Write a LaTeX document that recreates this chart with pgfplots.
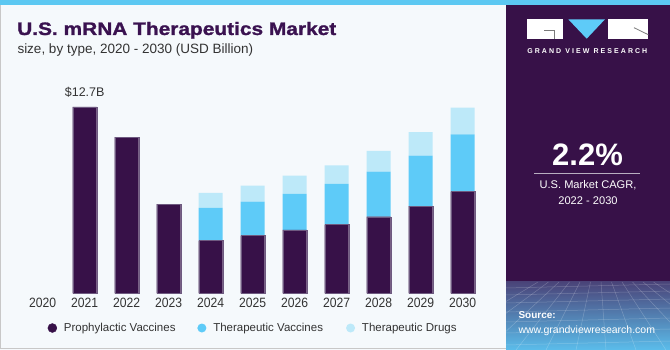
\documentclass[border=0pt]{standalone}
\usepackage{fontspec}
\setmainfont{Liberation Sans}
\newfontfamily\titlefont{Liberation Sans}[UprightFont={* Bold}, FakeStretch=1.16, FakeBold=1.3]
\newfontfamily\tickfont{Liberation Sans}[FakeStretch=0.9]
\usepackage{pgfplots}
\usepackage{pgfplotstable}
\pgfplotsset{compat=1.18}
\definecolor{pv}{HTML}{371148}
\definecolor{tv}{HTML}{5ECBF8}
\definecolor{td}{HTML}{BDE9F9}
\definecolor{bgl}{HTML}{F5F9FC}
\definecolor{strip}{HTML}{5CC8F2}
\definecolor{titlec}{HTML}{3A1250}
\definecolor{txt}{HTML}{333333}
\definecolor{bordc}{HTML}{C8C8C8}
\definecolor{gradtop}{HTML}{4A4479}
\definecolor{gradbot}{HTML}{5BBDEB}
\definecolor{cagrline}{HTML}{B8AEC0}
\definecolor{logoline}{HTML}{7A7A7A}
\definecolor{pvedge}{HTML}{6E5A80}

\pgfplotstableread{
year pv tv td
2021 12.70 0 0
2022 10.65 0 0
2023 6.07 0 0
2024 3.59 2.23 1.02
2025 3.93 2.32 1.09
2026 4.32 2.45 1.25
2027 4.68 2.77 1.27
2028 5.22 3.07 1.41
2029 5.95 3.43 1.60
2030 6.93 3.91 1.81
}\datatable

\begin{document}
\begin{tikzpicture}
\begin{scope}[x=1pt,y=1pt]
\useasboundingbox (0,0) rectangle (670,350);
% left panel
\fill[bgl] (0,0) rectangle (506,345);
\draw[bordc, line width=1pt] (0.5,345) -- (0.5,1.5) -- (506,1.5);
% right panel
\fill[pv] (506,0) rectangle (670,345);
\shade[top color=gradtop, bottom color=gradbot] (506,0) rectangle (670,68);
\begin{scope}
\clip (506,0) rectangle (670,68);
\foreach \yy in {62,55,47,38,28,17,5} {\draw[white, opacity=0.22, line width=0.5pt] (506,\yy) -- (670,\yy+4);}
\foreach \xx in {-80,-50,-20,10,40,70,100,130,160,190,220,250} {\draw[white, opacity=0.22, line width=0.5pt] (506+\xx*0.35+60,68) -- (506+\xx,0);}
\end{scope}
% top strip
\fill[strip] (0,345) rectangle (670,350);

% title
\node[anchor=base west, inner sep=0pt, text=titlec, font=\titlefont\fontsize{18}{20}\selectfont] at (17,315) {U.S. mRNA Therapeutics Market};
\node[anchor=base west, inner sep=0pt, text=txt, font=\fontsize{13.5}{15}\selectfont] at (17.3,296.7) {size, by type, 2020 - 2030 (USD Billion)};

% logo
\fill[white] (526.7,311.3) rectangle (563.3,330.7);
\draw[logoline, line width=0.8pt] (544,319.7) -- (554.3,319.7) -- (554.3,311.3);
\fill[tv] (568.3,330.7) -- (605,330.7) -- (586.7,311.3) -- cycle;
\fill[white] (607.7,311.3) rectangle (648.3,330.7);
\draw[logoline, line width=0.8pt] (634,322.3) -- (648.3,315.3);
\node[anchor=base, inner sep=0pt, white, font=\fontsize{7}{7}\bfseries\selectfont] at (587.3,296.7) {\makebox[120pt]{G\hfill R\hfill A\hfill N\hfill D\hfill\hfill V\hfill I\hfill E\hfill W\hfill\hfill R\hfill E\hfill S\hfill E\hfill A\hfill R\hfill C\hfill H}};

% CAGR
\node[anchor=base, inner sep=0pt, white, font=\fontsize{31}{31}\bfseries\selectfont] at (587.5,184) {2.2\%};
\draw[cagrline, line width=0.8pt] (534,176.7) -- (640,176.7);
\node[anchor=base, inner sep=0pt, white, font=\fontsize{11.1}{12}\selectfont] at (588,161) {U.S. Market CAGR,};
\node[anchor=base, inner sep=0pt, white, font=\fontsize{11.1}{12}\selectfont] at (588,145.7) {2022 - 2030};

% source
\node[anchor=base west, inner sep=0pt, white, font=\fontsize{10}{11}\bfseries\selectfont] at (518.3,31) {Source:};
\node[anchor=base west, inner sep=0pt, white, font=\fontsize{10.5}{11}\selectfont] at (518.3,16.7) {www.grandviewresearch.com};
\end{scope}

\begin{axis}[
  at={(21.7pt,56.7pt)}, anchor=south west,
  scale only axis, width=462pt, height=205.4pt,
  xmin=2019.5, xmax=2030.5, ymin=0, ymax=14,
  ybar stacked, bar width=24pt,
  axis line style={draw=none},
  ytick=\empty,
  xtick={2020,2021,2022,2023,2024,2025,2026,2027,2028,2029,2030},
  xticklabels={2020,2021,2022,2023,2024,2025,2026,2027,2028,2029,2030},
  major tick length=0pt,
  xticklabel style={font=\tickfont\fontsize{13.5}{13.5}\selectfont, text=txt, inner sep=0pt, yshift=-5pt},
  clip=false,
  legend columns=3,
  legend style={at={(0.0558,-0.169)}, anchor=west, draw=none, fill=none, inner sep=0pt,
    font=\fontsize{11.5}{12}\selectfont, text=txt, nodes={inner sep=0pt}, cells={anchor=west},
    /tikz/every even column/.append style={column sep=0pt},
    /tikz/every odd column/.append style={column sep=0pt}},
]
\addplot[fill=pv, draw=pvedge, line width=0.4pt, legend image code/.code={\path (0pt,0pt) rectangle (9pt,0pt); \fill[pv] (4.5pt,0pt) circle (4.5pt);}] table[x=year, y=pv] {\datatable};
\addlegendentry{\makebox[140.3pt][l]{\hspace{6.8pt}Prophylactic Vaccines}}
\addplot[fill=tv, draw=none, legend image code/.code={\path (0pt,0pt) rectangle (9pt,0pt); \fill[tv] (4.5pt,0pt) circle (4.5pt);}] table[x=year, y=tv] {\datatable};
\addlegendentry{\makebox[139.7pt][l]{\hspace{6.9pt}Therapeutic Vaccines}}
\addplot[fill=td, draw=none, legend image code/.code={\path (0pt,0pt) rectangle (9pt,0pt); \fill[td] (4.5pt,0pt) circle (4.5pt);}] table[x=year, y=td] {\datatable};
\addlegendentry{\hspace{6.9pt}Therapeutic Drugs}
\node[anchor=base, inner sep=0pt, text=txt, font=\fontsize{12.5}{13}\selectfont] at (axis cs:2021,12.7) [yshift=10pt] {\$12.7B};
\end{axis}
\end{tikzpicture}
\end{document}
